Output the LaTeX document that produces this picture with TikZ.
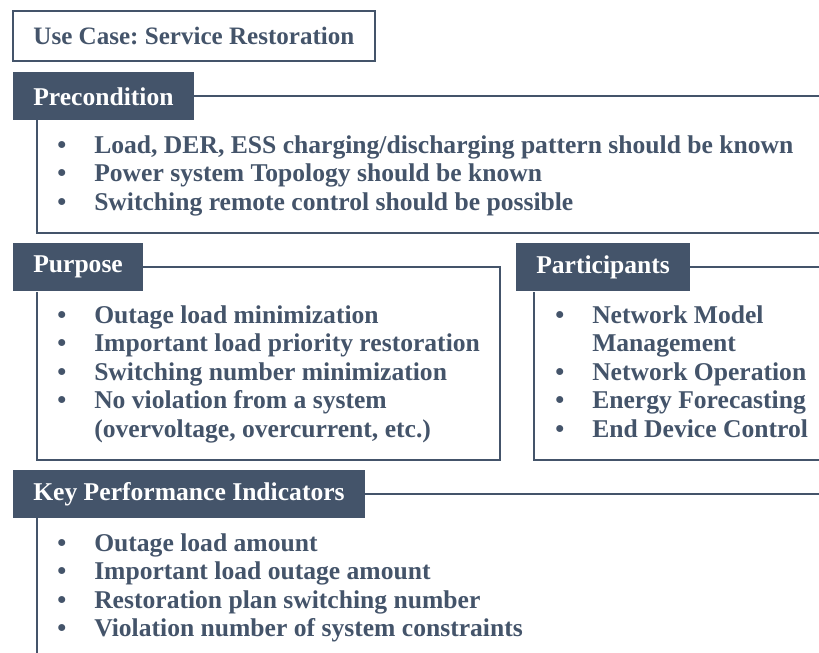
\documentclass[tikz,border=0pt]{standalone}
\usepackage{fontspec}
\setmainfont{Liberation Serif}
\usepackage{xcolor}
\frenchspacing

\definecolor{slate}{HTML}{44546A}
\newcommand{\bodysize}{\fontsize{19.2}{21.4}\selectfont}

\begin{document}
\begin{tikzpicture}[x=0.75pt, y=-0.75pt,
          titlebox/.style={draw=slate, line width=1.2pt, anchor=north west, inner xsep=15.5pt, minimum height=37.5pt, text=slate, font=\fontsize{18.8}{21.4}\selectfont\bfseries},
          header/.style={fill=slate, text=white, anchor=north west, inner xsep=15pt, minimum height=36pt, font=\bodysize\bfseries},
          frame/.style={draw=slate, line width=1.6pt},
          items/.style={anchor=base west, inner sep=0pt, text=slate, font=\bodysize\bfseries},
        ]
          \useasboundingbox (0,0) rectangle (819,653);
          \coordinate (edge) at (819,0);

          \node[titlebox] (title) at (12,10) {Use Case: Service Restoration};

          % precondition
          \node[header] (pre) at (13,72) {Precondition};
          \draw[frame] (pre.east) -- (pre.east -| edge);
          \draw[frame] (37,120) |- (819,233);
          \node[items] (prelist) at (57,153) {\begin{tabular}[t]{@{}p{27.75pt}@{}l@{}}
            \textbullet & Load, DER, ESS charging/discharging pattern should be known\\
            \textbullet & Power system Topology should be known\\
            \textbullet & Switching remote control should be possible
          \end{tabular}};

          % purpose
          \node[header] (pur) at (13,243) {Purpose};
          \draw[frame] (pur.east) -| (500,460) -- (37,460) -- (37,292);
          \node[items] (purlist) at (57,323) {\begin{tabular}[t]{@{}p{27.75pt}@{}l@{}}
            \textbullet & Outage load minimization\\
            \textbullet & Important load priority restoration\\
            \textbullet & Switching number minimization\\
            \textbullet & No violation from a system\\
                        & (overvoltage, overcurrent, etc.)
          \end{tabular}};

          % participants
          \node[header] (par) at (516,243) {Participants};
          \draw[frame] (par.east) -- (par.east -| edge);
          \draw[frame] (534,292) |- (819,460);
          \node[items] (parlist) at (555,323) {\begin{tabular}[t]{@{}p{27.75pt}@{}l@{}}
            \textbullet & Network Model\\
                        & Management\\
            \textbullet & Network Operation\\
            \textbullet & Energy Forecasting\\
            \textbullet & End Device Control
          \end{tabular}};

          % kpi
          \node[header] (kpi) at (13,470) {Key Performance Indicators};
          \draw[frame] (kpi.east) -- (kpi.east -| edge);
          \draw[frame] (37,518) -- (37,653);
          \node[items] (kpilist) at (57,551) {\begin{tabular}[t]{@{}p{27.75pt}@{}l@{}}
            \textbullet & Outage load amount\\
            \textbullet & Important load outage amount\\
            \textbullet & Restoration plan switching number\\
            \textbullet & Violation number of system constraints
          \end{tabular}};
        \end{tikzpicture}
\end{document}
